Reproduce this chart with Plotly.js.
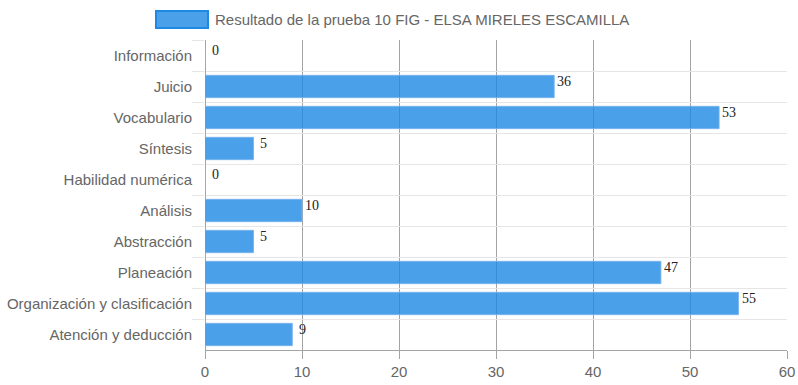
<!DOCTYPE html>
<html>
<head>
<meta charset="utf-8">
<script src="https://cdn.plot.ly/plotly-3.0.1.min.js"></script>
<style>html,body{margin:0;padding:0;background:#fff;}#chart{width:798px;height:385px;}</style>
</head>
<body>
<div id="chart"></div>
<script>
const seriesName = 'Resultado de la prueba 10 FIG - ELSA MIRELES ESCAMILLA';
const categories = ['Información','Juicio','Vocabulario','Síntesis','Habilidad numérica','Análisis','Abstracción','Planeación','Organización y clasificación','Atención y deducción'];
const values = [0, 36, 53, 5, 0, 10, 5, 47, 55, 9];
const xTicks = [0, 10, 20, 30, 40, 50, 60];

const barColor = 'rgba(30,136,229,0.8)';
const trace = {
  type: 'bar',
  orientation: 'h',
  x: values,
  y: categories,
  name: seriesName,
  marker: {color: barColor, line: {color: 'rgba(120,180,240,0.9)', width: 1}},
  width: 0.72,
  hoverinfo: 'x+y',
  showlegend: false
};

const annotations = values.map((v, i) => ({
  x: v, y: categories[i], xref: 'x', yref: 'y',
  text: String(v), showarrow: false,
  xanchor: 'center', yanchor: 'middle', xshift: 10, yshift: 5,
  font: {family: '"Liberation Serif", "Times New Roman", serif', size: 14, color: '#222'}
}));

// legend (drawn as box + text)
const plotL = 205, plotR = 787, plotT = 40, plotB = 350;
const pw = plotR - plotL, ph = plotB - plotT;
const px = p => (p - plotL) / pw;
const py = p => (plotB - p) / ph;
annotations.push({
  xref: 'paper', yref: 'paper', x: px(213), y: py(19.5),
  xanchor: 'left', yanchor: 'middle', showarrow: false, text: seriesName,
  font: {family: 'Arial, "Liberation Sans", sans-serif', size: 15, color: '#666'}
});

const layout = {
  width: 798, height: 385,
  margin: {l: plotL, r: 798 - plotR, t: plotT, b: 385 - plotB, pad: 0},
  paper_bgcolor: '#fff', plot_bgcolor: '#fff',
  showlegend: false,
  bargap: 0.28,
  font: {family: 'Arial, "Liberation Sans", sans-serif', size: 15, color: '#666'},
  xaxis: {
    range: [0, 60], tickvals: xTicks, ticktext: xTicks.map(String),
    showgrid: true, gridcolor: '#a4a4a4', gridwidth: 1,
    zeroline: true, zerolinecolor: '#a4a4a4', zerolinewidth: 1,
    showline: true, linecolor: '#a4a4a4', linewidth: 1,
    ticks: 'outside', ticklen: 8, tickcolor: '#a4a4a4',
    tickfont: {size: 15, color: '#666'}, fixedrange: true
  },
  yaxis: {
    type: 'category', range: [categories.length - 0.5, -0.5],
    tickson: 'boundaries', showgrid: true, gridcolor: '#e6e6e6', gridwidth: 1,
    ticks: 'outside', ticklen: 12, tickcolor: '#e6e6e6',
    ticklabelstandoff: 12,
    showline: false, zeroline: false,
    tickfont: {size: 15, color: '#666'}, fixedrange: true
  },
  shapes: [{
    type: 'rect', xref: 'paper', yref: 'paper',
    x0: px(156), x1: px(208), y0: py(28), y1: py(11),
    fillcolor: barColor, line: {color: '#1e88e5', width: 2}
  }],
  annotations: annotations
};

Plotly.newPlot('chart', [trace], layout, {displayModeBar: false, staticPlot: true});
</script>
</body>
</html>
